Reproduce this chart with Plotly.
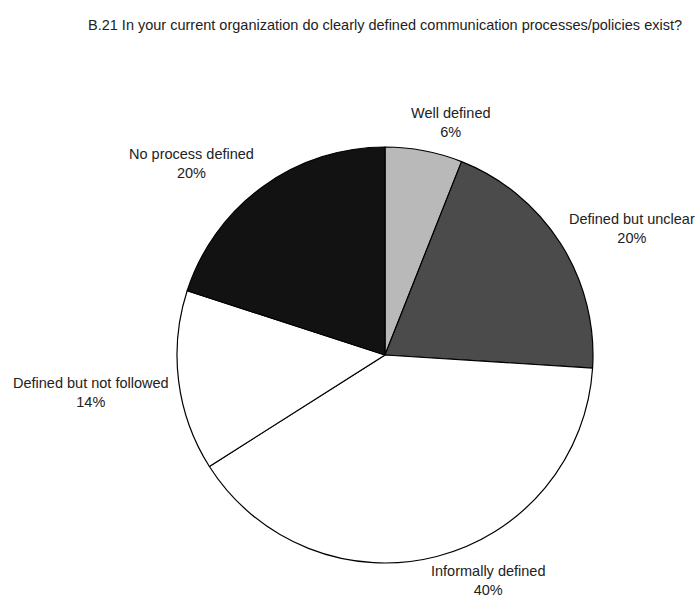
import plotly.graph_objects as go

# Survey responses, clockwise from 12 o'clock
categories = ["Well defined", "Defined but unclear", "Informally defined",
              "Defined but not followed", "No process defined"]
shares = [6, 20, 40, 14, 20]

slice_colors = ["#b9b9b9", "#4b4b4b", "#ffffff", "#ffffff", "#121212"]

# Label anchor points (pixel coords from the top-left) for each category
label_xy = [(451, 122), (632, 229), (488, 580), (91, 392), (191, 163)]

W, H = 699, 600
cx, cy, r = 385, 355, 208

fig = go.Figure(go.Pie(
    labels=categories,
    values=shares,
    sort=False,
    direction="clockwise",
    rotation=0,
    marker=dict(colors=slice_colors, line=dict(color="#000000", width=1.2)),
    textinfo="none",
    hoverinfo="label+percent",
    domain=dict(x=[(cx - r) / W, (cx + r) / W],
                y=[(H - cy - r) / H, (H - cy + r) / H]),
))

label_font = dict(family="Liberation Sans, Arial", size=14.5, color="#222222")

for name, val, (lx, ly) in zip(categories, shares, label_xy):
    fig.add_annotation(
        x=lx / W, y=1 - ly / H, xref="paper", yref="paper",
        text=f"{name}<br>{val}%", showarrow=False,
        font=label_font, align="center",
        xanchor="center", yanchor="middle",
    )

fig.add_annotation(
    x=385 / W, y=1 - 25 / H, xref="paper", yref="paper",
    text="B.21 In your current organization do clearly defined communication processes/policies exist?",
    showarrow=False, xanchor="center", yanchor="middle",
    font=label_font,
)

fig.update_layout(
    width=W, height=H,
    margin=dict(l=0, r=0, t=0, b=0),
    showlegend=False,
    paper_bgcolor="#ffffff",
    plot_bgcolor="#ffffff",
)

fig.write_html("out.html")
